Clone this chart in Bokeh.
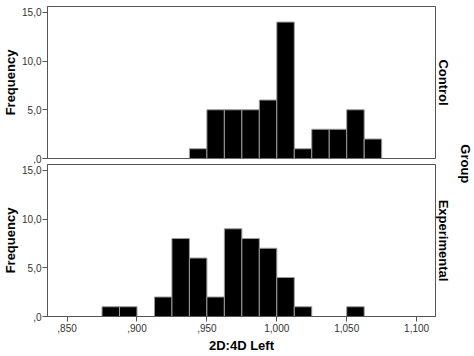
import math
from bokeh.plotting import figure
from bokeh.layouts import column, row
from bokeh.models import Range1d, FixedTicker, Label, Title, ColumnDataSource
from bokeh.embed import file_html
from bokeh.resources import INLINE

# ---- data ----
bin_edges = [0.875, 0.8875, 0.900, 0.9125, 0.925, 0.9375, 0.950, 0.9625,
             0.975, 0.9875, 1.000, 1.0125, 1.025, 1.0375, 1.050, 1.0625, 1.075]
control_counts = [0, 0, 0, 0, 0, 1, 5, 5, 5, 6, 14, 1, 3, 3, 5, 2]
experimental_counts = [1, 1, 0, 2, 8, 6, 2, 9, 8, 7, 4, 1, 0, 0, 1, 0]
group_names = ["Control", "Experimental"]
x_ticks = [0.85, 0.90, 0.95, 1.00, 1.05, 1.10]
x_tick_labels = [",850", ",900", ",950", "1,000", "1,050", "1,100"]
y_ticks = [0, 5, 10, 15]
y_tick_labels = [",0", "5,0", "10,0", "15,0"]
x_title = "2D:4D Left"
y_title = "Frequency"
facet_title = "Group"

FONT = "Liberation Sans"
AX = "#555555"
W = 453
Y_MAX = 15.6


def panel(counts, name, show_x):
    p = figure(width=W, height=191 if show_x else 164,
               x_range=Range1d(0.836, 1.1135), y_range=Range1d(0, Y_MAX),
               output_backend="svg", toolbar_location=None,
               x_axis_location="below" if show_x else None,
               min_border_left=45, min_border_right=17,
               min_border_top=0 if show_x else 6,
               min_border_bottom=37 if show_x else 6)
    left = [bin_edges[i] for i in range(len(counts)) if counts[i] > 0]
    right = [bin_edges[i + 1] for i in range(len(counts)) if counts[i] > 0]
    top = [c for c in counts if c > 0]
    src = ColumnDataSource(dict(left=left, right=right, top=top, bottom=[0] * len(top)))
    p.quad(left="left", right="right", top="top", bottom="bottom", source=src,
           fill_color="black", line_color="#9a9a9a", line_width=1)
    p.grid.visible = False
    p.outline_line_color = AX
    p.outline_line_width = 1
    p.background_fill_color = "white"
    p.border_fill_color = "white"

    ya = p.yaxis[0]
    ya.ticker = FixedTicker(ticks=y_ticks)
    ya.major_label_overrides = {t: l for t, l in zip(y_ticks, y_tick_labels)}
    ya.minor_tick_line_color = None
    ya.major_tick_in = 0
    ya.major_tick_out = 5
    ya.major_tick_line_color = AX
    ya.axis_line_color = AX
    ya.major_label_text_font = FONT
    ya.major_label_text_font_size = "10px"
    ya.major_label_text_color = "#333333"
    ya.major_label_standoff = 1
    ya.axis_label = y_title
    ya.axis_label_text_font = FONT
    ya.axis_label_text_font_size = "13px"
    ya.axis_label_text_font_style = "bold"
    ya.axis_label_text_color = "black"
    ya.axis_label_standoff = 1

    if show_x:
        xa = p.xaxis[0]
        xa.ticker = FixedTicker(ticks=x_ticks)
        xa.major_label_overrides = {t: l for t, l in zip(x_ticks, x_tick_labels)}
        xa.minor_tick_line_color = None
        xa.major_tick_in = 0
        xa.major_tick_out = 5
        xa.major_tick_line_color = AX
        xa.axis_line_color = AX
        xa.major_label_text_font = FONT
        xa.major_label_text_font_size = "10px"
        xa.major_label_text_color = "#333333"
        xa.major_label_standoff = 2
        xa.axis_label = x_title
        xa.axis_label_text_font = FONT
        xa.axis_label_text_font_size = "13px"
        xa.axis_label_text_font_style = "bold"
        xa.axis_label_text_color = "black"
        xa.axis_label_standoff = 3

    # facet name on the right side (reads top to bottom)
    p.add_layout(Title(text=name, align="center", text_font=FONT, text_font_size="13px",
                       text_font_style="bold", text_color="black", standoff=1, offset=0),
                 "right")
    return p


top = panel(control_counts, group_names[0], False)
bot = panel(experimental_counts, group_names[1], True)

g = figure(width=21, height=355, x_range=Range1d(0, 1), y_range=Range1d(0, 1),
           output_backend="svg", toolbar_location=None,
           x_axis_location=None, y_axis_location=None,
           min_border_left=0, min_border_right=0, min_border_top=0, min_border_bottom=0)
g.grid.visible = False
g.outline_line_color = None
g.border_fill_color = "white"
g.background_fill_color = "white"
g.add_layout(Label(x=0.57, y=0.54, text=facet_title, angle=-math.pi / 2,
                   text_font=FONT, text_font_size="13px", text_font_style="bold",
                   text_align="center", text_baseline="middle", text_color="black"))

layout = row(column(top, bot), g)
open("out.html", "w").write(file_html(layout, INLINE))
